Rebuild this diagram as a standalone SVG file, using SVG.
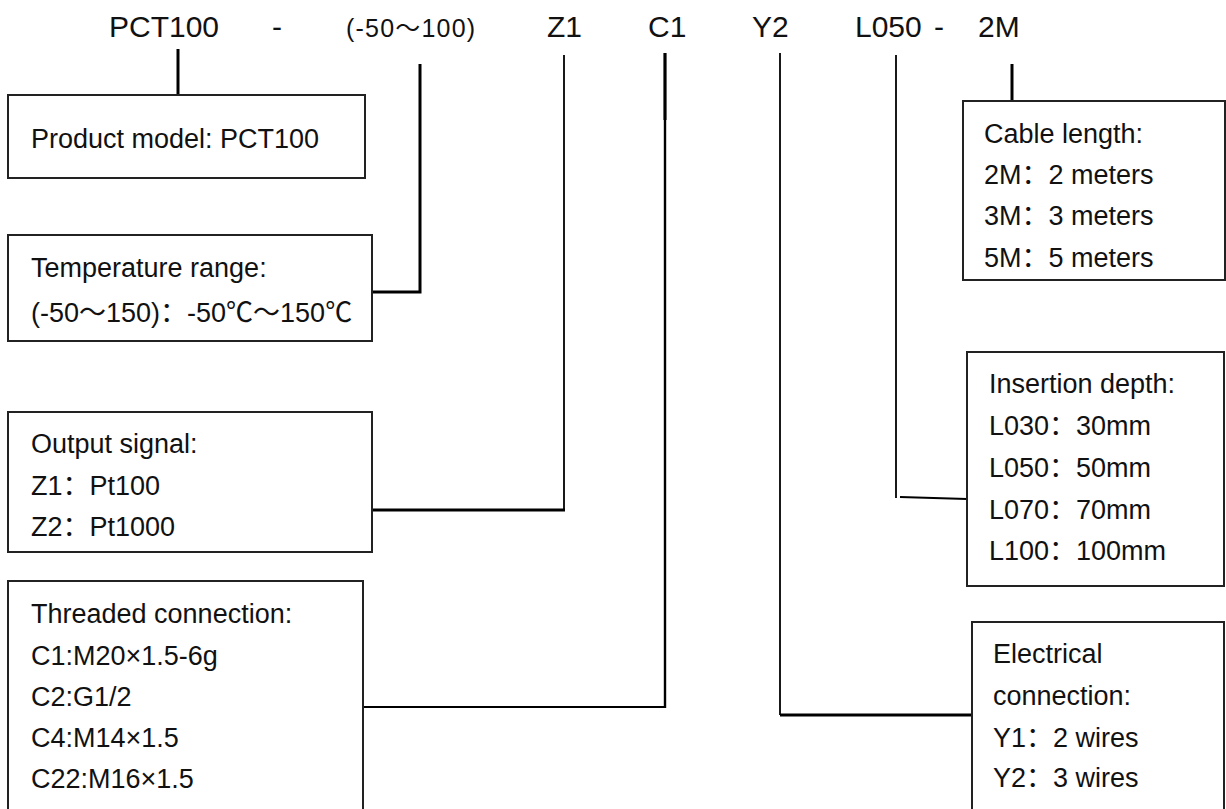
<svg xmlns="http://www.w3.org/2000/svg" width="1226" height="809" viewBox="0 0 1226 809">
<style>
text{font-family:"Liberation Sans","Noto Sans CJK SC",sans-serif;fill:#111;}
.t{font-size:30px;}
.s{font-size:25px;letter-spacing:1.2px;}
.b{font-size:27px;}
.box{fill:#fff;stroke:#222;stroke-width:2;}
.thick{stroke:#000;stroke-width:3;fill:none;}
.thin{stroke:#000;stroke-width:1.8;fill:none;}
</style>
<rect width="1226" height="809" fill="#fff"/>
<g id="header">
<text class="t" x="109" y="37">PCT100</text>
<text class="t" x="272" y="37">-</text>
<text class="s" x="346" y="37">(-50～100)</text>
<text class="t" x="547" y="37">Z1</text>
<text class="t" x="648" y="37">C1</text>
<text class="t" x="752" y="37">Y2</text>
<text class="t" x="855" y="37">L050</text>
<text class="t" x="934" y="37">-</text>
<text class="t" x="978" y="37">2M</text>
</g>
<g id="connectors">
<line class="thick" x1="178" y1="49" x2="178" y2="95"/>
<polyline class="thick" points="420,64 420,292 372,292"/>
<line class="thin" x1="564" y1="55" x2="564" y2="510"/>
<line class="thick" x1="372" y1="510" x2="565" y2="510"/>
<line class="thick" x1="665" y1="53" x2="665" y2="120"/>
<line class="thin" x1="665" y1="53" x2="665" y2="708" style="stroke-width:2.4"/>
<line class="thin" x1="363" y1="707" x2="665" y2="707"/>
<line class="thin" x1="780" y1="53" x2="780" y2="715"/>
<line class="thick" x1="780" y1="715" x2="972" y2="715"/>
<line class="thin" x1="896" y1="55" x2="896" y2="498"/>
<line class="thin" x1="900" y1="497" x2="967" y2="499" style="stroke-width:2.2"/>
<line class="thick" x1="1012" y1="64" x2="1012" y2="101"/>
</g>
<g id="node-product">
<rect class="box" x="8" y="95" width="357" height="83"/>
<text class="b" x="31" y="148">Product model: PCT100</text>
</g>
<g id="node-temperature">
<rect class="box" x="8" y="235" width="364" height="106"/>
<text class="b" x="31" y="277">Temperature range:</text>
<text class="b" x="31" y="322">(-50～150)：-50℃～150℃</text>
</g>
<g id="node-output">
<rect class="box" x="8" y="412" width="364" height="140"/>
<text class="b" x="31" y="453">Output signal:</text>
<text class="b" x="31" y="495">Z1：Pt100</text>
<text class="b" x="31" y="536">Z2：Pt1000</text>
</g>
<g id="node-threaded">
<path class="box" d="M8,815 V581 H363 V815"/>
<text class="b" x="31" y="623">Threaded connection:</text>
<text class="b" x="31" y="665">C1:M20×1.5-6g</text>
<text class="b" x="31" y="706">C2:G1/2</text>
<text class="b" x="31" y="747">C4:M14×1.5</text>
<text class="b" x="31" y="788">C22:M16×1.5</text>
</g>
<g id="node-cable">
<rect class="box" x="963" y="101" width="262" height="179"/>
<text class="b" x="984" y="143">Cable length:</text>
<text class="b" x="984" y="184">2M：2 meters</text>
<text class="b" x="984" y="225">3M：3 meters</text>
<text class="b" x="984" y="267">5M：5 meters</text>
</g>
<g id="node-insertion">
<rect class="box" x="967" y="352" width="257" height="234"/>
<text class="b" x="989" y="393">Insertion depth:</text>
<text class="b" x="989" y="435">L030：30mm</text>
<text class="b" x="989" y="477">L050：50mm</text>
<text class="b" x="989" y="519">L070：70mm</text>
<text class="b" x="989" y="560">L100：100mm</text>
</g>
<g id="node-electrical">
<path class="box" d="M972,815 V622 H1224 V815"/>
<text class="b" x="993" y="663">Electrical</text>
<text class="b" x="993" y="705">connection:</text>
<text class="b" x="993" y="747">Y1：2 wires</text>
<text class="b" x="993" y="787">Y2：3 wires</text>
</g>
</svg>
